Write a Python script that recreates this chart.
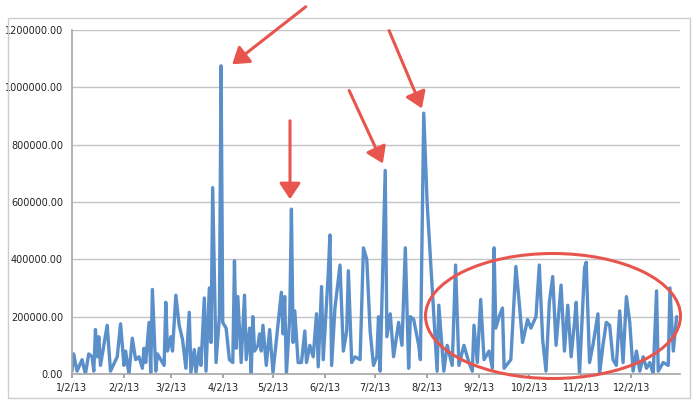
import numpy as np, pandas as pd, seaborn as sns
import matplotlib
matplotlib.use("Agg")
import matplotlib.pyplot as plt
import matplotlib.dates as mdates
from matplotlib.patches import Ellipse, FancyArrowPatch, Rectangle
from matplotlib.ticker import FuncFormatter

day_offsets = [0,1,3,6,8,10,12,13,14,15,16,17,21,23,27,29,31,32,34,36,38,40,42,43,44,46,47,48,50,51,55,56,57,59,60,62,64,66,68,70,71,73,74,76,77,79,80,82,83,84,86,88,89,90,92,94,96,97,98,99,101,103,104,106,107,108,109,111,112,113,114,116,118,120,125,126,127,128,130,131,132,133,135,137,139,140,142,144,146,147,149,150,153,154,155,157,
    160,162,164,165,167,169,172,174,176,178,180,182,183,184,187,188,190,192,195,197,199,201,202,204,207,208,210,212,216,218,219,222,224,227,229,231,234,237,239,240,242,244,246,249,251,252,253,255,257,258,262,265,267,269,272,274,277,279,281,283,285,287,289,292,294,296,298,300,301,303,306,307,309,311,314,315,317,319,321,323,325,327,329,331,333,335,337,339,341,343,345,347,349,350,353,356,357,359,361]
values_k = [10,70,10,50,0,70,60,10,155,60,130,30,170,10,60,175,30,80,0,125,50,60,20,90,40,180,5,295,10,70,30,250,80,130,80,275,170,120,20,215,5,85,5,90,30,265,10,300,110,650,40,200,1075,180,160,50,40,395,90,270,40,275,50,160,0,200,80,100,140,80,170,30,155,5,285,140,270,0,200,575,110,220,40,40,150,40,100,60,210,25,305,50,350,485,30,230,
    380,80,150,360,40,60,50,440,400,150,30,60,200,10,710,130,210,60,180,100,440,20,200,190,100,50,910,600,210,10,240,10,100,30,380,30,100,40,10,170,40,260,50,80,20,440,160,200,230,20,50,375,250,110,190,160,200,380,120,10,250,340,100,310,80,240,60,180,250,0,370,390,40,100,210,0,100,180,170,50,30,220,40,270,180,10,80,10,60,20,40,0,290,10,40,30,300,80,200]

df = pd.DataFrame({"date": pd.Timestamp("2013-01-02") + pd.to_timedelta(day_offsets, unit="D"),
                   "value": np.array(values_k) * 1000.0})

sns.set_theme(style="white")
W, H = 700, 409
fig = plt.figure(figsize=(7, 4.09), dpi=100)
ax = fig.add_axes([72/W, 1-374/H, (680-72)/W, (374-30)/H])
sns.lineplot(data=df, x="date", y="value", ax=ax, color="#5a8fc9", linewidth=2.4)
ax.set_ylim(0, 1200000)
ax.set_xlim(pd.Timestamp("2013-01-02"), pd.Timestamp("2013-12-31"))
ax.set_yticks(np.arange(0, 1200001, 200000))
ax.yaxis.set_major_formatter(FuncFormatter(lambda v, p: f"{v:.2f}"))
ticks = [pd.Timestamp(2013, m, 2) for m in range(1, 13)]
ax.set_xticks(ticks)
ax.set_xticklabels([f"{t.month}/{t.day}/13" for t in ticks])
ax.tick_params(labelsize=7, colors="#222222", length=3)
ax.tick_params(axis="x", bottom=True, color="#999999")
ax.grid(axis="y", color="#c4c4c4", linewidth=1)
ax.set_xlabel(""); ax.set_ylabel("")
for s in ["top", "right"]:
    ax.spines[s].set_visible(False)
for s in ["left", "bottom"]:
    ax.spines[s].set_color("#aaaaaa")

def P(x, y):
    return (x / W, 1 - y / H)

fig.patches.append(Rectangle(P(8, 398), 682/W, 380/H, transform=fig.transFigure,
                             fill=False, edgecolor="#cccccc", linewidth=1))
red = "#e8554e"
for (x0, y0, x1, y1) in [(308, 5, 230, 66), (290, 118, 290, 202), (348, 88, 384, 166), (388, 28, 423, 111)]:
    fig.patches.append(FancyArrowPatch(P(x0, y0), P(x1, y1), transform=fig.transFigure,
                                       arrowstyle="-|>,head_length=6,head_width=4", color=red,
                                       linewidth=2.2, mutation_scale=1.6))
fig.patches.append(Ellipse(P(553, 316), 255/W, 125/H, transform=fig.transFigure,
                           fill=False, edgecolor=red, linewidth=2.2))
fig.savefig("out.png", dpi=100)
